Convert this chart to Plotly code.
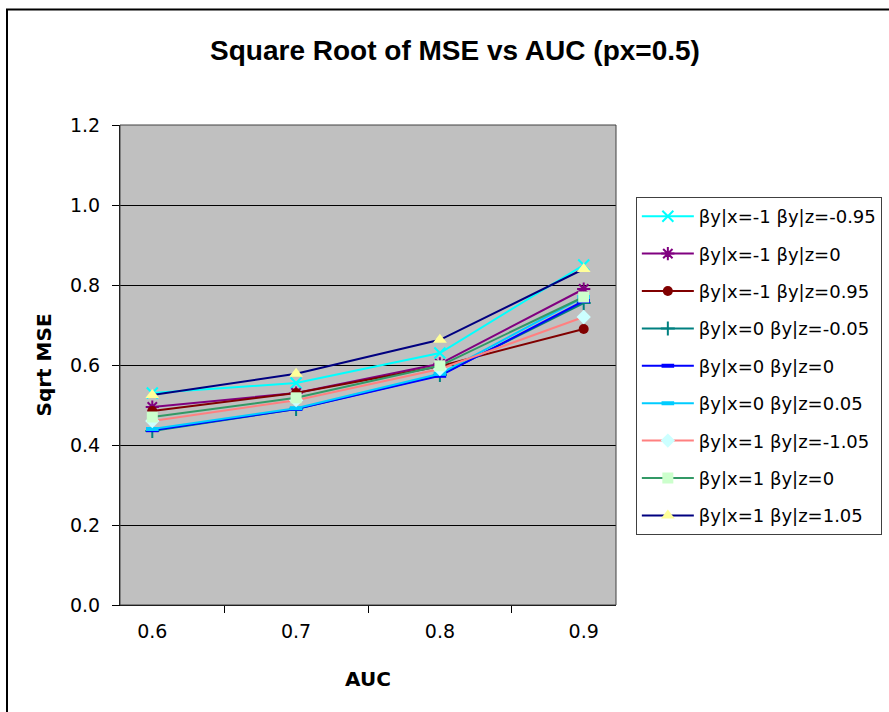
import plotly.graph_objects as go

auc = ["0.6", "0.7", "0.8", "0.9"]

names = [
    "βy|x=-1 βy|z=-0.95",
    "βy|x=-1 βy|z=0",
    "βy|x=-1 βy|z=0.95",
    "βy|x=0 βy|z=-0.05",
    "βy|x=0 βy|z=0",
    "βy|x=0 βy|z=0.05",
    "βy|x=1 βy|z=-1.05",
    "βy|x=1 βy|z=0",
    "βy|x=1 βy|z=1.05",
]

s_m1_m095 = [0.530, 0.555, 0.630, 0.850]
s_m1_0 = [0.495, 0.530, 0.603, 0.790]
s_m1_095 = [0.485, 0.530, 0.597, 0.690]
s_0_m005 = [0.435, 0.490, 0.575, 0.755]
s_0_0 = [0.437, 0.490, 0.573, 0.760]
s_0_005 = [0.440, 0.492, 0.578, 0.770]
s_1_m105 = [0.460, 0.512, 0.590, 0.720]
s_1_0 = [0.470, 0.518, 0.598, 0.770]
s_1_105 = [0.525, 0.578, 0.663, 0.840]

series = [s_m1_m095, s_m1_0, s_m1_095, s_0_m005, s_0_0, s_0_005, s_1_m105, s_1_0, s_1_105]

line_colors = ["#00FFFF", "#800080", "#800000", "#008080", "#0000FF", "#00CCFF", "#FF8080", "#339966", "#000080"]
marker_symbols = ["x-thin-open", "asterisk-open", "circle", "cross-thin-open", "line-ew-open",
                  "line-ew-open", "diamond", "square", "triangle-up"]
marker_fill = ["#00FFFF", "#800080", "#800000", "#008080", "#0000FF", "#00CCFF", "#CCFFFF", "#CCFFCC", "#FFFF99"]
marker_sizes = [11, 11, 10, 10, 9, 9, 11, 11, 12]

fig = go.Figure()
for i, (nm, vals) in enumerate(zip(names, series)):
    sym = marker_symbols[i]
    if sym.endswith("-open"):
        mk = dict(symbol=sym, size=marker_sizes[i], color=marker_fill[i],
                  line=dict(color=marker_fill[i], width=2 if "line" not in sym else 4))
    else:
        mk = dict(symbol=sym, size=marker_sizes[i], color=marker_fill[i], line=dict(width=0))
    fig.add_trace(go.Scatter(
        x=auc, y=vals, name=nm, mode="lines+markers",
        line=dict(color=line_colors[i], width=2),
        marker=mk, legendgroup=f"g{i}",
    ))

FONT = "DejaVu Sans, Liberation Sans, Arial, sans-serif"
TFONT = "Liberation Sans, Arial, sans-serif"

fig.update_layout(
    width=889, height=712,
    margin=dict(l=120, r=273, t=125, b=107, autoexpand=False),
    paper_bgcolor="white",
    plot_bgcolor="#C0C0C0",
    font=dict(family=FONT, size=19, color="black"),
    title=dict(text="<b>Square Root of MSE vs AUC (px=0.5)</b>",
               x=455 / 889, xref="container", xanchor="center",
               y=1 - 50 / 712, yref="container", yanchor="middle",
               font=dict(family=TFONT, size=28, color="black")),
    xaxis=dict(type="category", tickson="boundaries", ticks="outside", ticklen=7,
               tickcolor="black", showline=True, linecolor="black", linewidth=1,
               showgrid=False, tickfont=dict(size=19), ticklabelstandoff=9,
               title=dict(text="<b>AUC</b>", font=dict(size=20), standoff=31)),
    yaxis=dict(range=[0, 1.2], dtick=0.2, tickformat=".1f", ticks="outside", ticklen=7,
               tickcolor="black", showline=True, linecolor="black", linewidth=1,
               showgrid=True, gridcolor="black", gridwidth=1, zeroline=False,
               tickfont=dict(size=19), ticklabelstandoff=8,
               title=dict(text="<b>Sqrt MSE</b>", font=dict(size=20), standoff=12)),
    legend=dict(x=1.04, xanchor="left", y=0.85, yanchor="top",
                bgcolor="white", bordercolor="#404040", borderwidth=1,
                font=dict(family=FONT, size=18, color="black"),
                traceorder="grouped", tracegroupgap=11, itemwidth=52),
    showlegend=True,
)

# plot area border (right / top) and outer chart frame
fig.add_shape(type="rect", xref="paper", yref="paper", x0=0, x1=1, y0=0, y1=1,
              line=dict(color="#404040", width=1), fillcolor="rgba(0,0,0,0)", layer="above")
fig.add_shape(type="rect", xref="paper", yref="paper",
              x0=(7 - 120) / 496, x1=1.7, y0=-0.5, y1=(605 - 9.5) / 480,
              line=dict(color="black", width=2), fillcolor="rgba(0,0,0,0)")

fig.write_html("out.html")
